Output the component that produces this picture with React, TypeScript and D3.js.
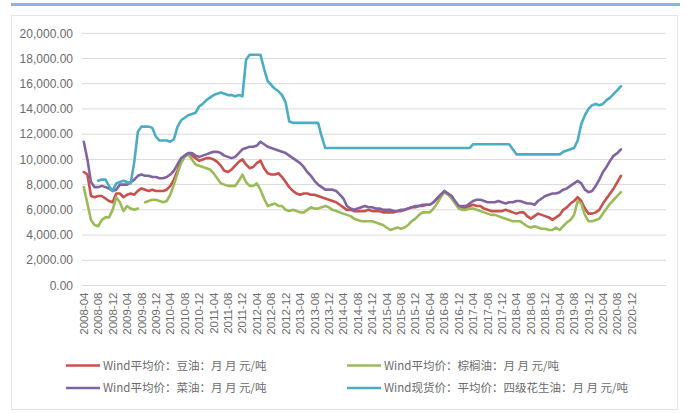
import React from "react";
import * as d3 from "d3";

// Monthly series, 2008-04 … 2020-09 (yuan / tonne)
const FIRST_MONTH = new Date(2008, 3, 1);
const AXIS_SLOTS = 162; // monthly category slots on the date axis

const TICK_LABELS = [
  "2008-04", "2008-08", "2008-12",
  "2009-04", "2009-08", "2009-12",
  "2010-04", "2010-08", "2010-12",
  "2011-04", "2011-08", "2011-12",
  "2012-04", "2012-08", "2012-12",
  "2013-04", "2013-08", "2013-12",
  "2014-04", "2014-08", "2014-12",
  "2015-04", "2015-08", "2015-12",
  "2016-04", "2016-08", "2016-12",
  "2017-04", "2017-08", "2017-12",
  "2018-04", "2018-08", "2018-12",
  "2019-04", "2019-08", "2019-12",
  "2020-04", "2020-08", "2020-12",
];

const Y_TICKS = [0, 2000, 4000, 6000, 8000, 10000, 12000, 14000, 16000, 18000, 20000];

const SOYBEAN: (number | null)[] = [
  9000, 8800, 7100, 7000, 7100, 7100, 6900, 6700, 6600,
  7300, 7300, 7000, 7200, 7300, 7200, 7500, 7700, 7600, 7500, 7600, 7500,
  7500, 7500, 7600, 7900, 8400, 9100, 9900, 10300, 10500, 10300, 10100, 9900,
  10000, 10100, 10100, 10000, 9800, 9500, 9100, 9000, 9200, 9500, 9800, 10000,
  9600, 9300, 9400, 9700, 9900, 9300, 8900, 8800, 8800, 8900, 8600, 8200,
  7800, 7500, 7300, 7200, 7300, 7300, 7200, 7200, 7100, 7000, 6900, 6800,
  6700, 6600, 6400, 6200, 6000, 6000, 5900, 5900, 5900, 5900, 6000, 5900,
  5900, 5900, 5800, 5800, 5800, 5800, 5900, 5900, 6000, 6100, 6200, 6200,
  6300, 6300, 6400, 6400, 6600, 6900, 7200, 7400, 7300, 7100, 6600, 6300,
  6200, 6100, 6300, 6400, 6300, 6300, 6100, 6000, 5900, 5900, 5900, 5900,
  6000, 5900, 5800, 5700, 5800, 5800, 5500, 5300, 5500, 5700, 5600, 5500,
  5400, 5200, 5400, 5600, 6000, 6200, 6500, 6700, 7000, 6700, 6100, 5700,
  5700, 5800, 6000, 6500, 6900, 7300, 7700, 8200, 8700,
];

const PALM: (number | null)[] = [
  7800, 6500, 5200, 4800, 4700, 5200, 5400, 5400, 6000,
  7000, 6600, 5900, 6300, 6100, 6000, 6100, null, 6600, 6700, 6800, 6800,
  6700, 6600, 6700, 7200, 8000, 8900, 9700, 10200, 10400, 10000, 9600, 9500,
  9400, 9300, 9200, 8900, 8500, 8100, 8000, 7900, 7900, 7900, 8300, 8800,
  8200, 7900, 7900, 8100, 7600, 6900, 6300, 6400, 6500, 6300, 6300, 6000,
  5900, 6000, 5900, 5800, 5800, 6000, 6200, 6100, 6100, 6200, 6300, 6200,
  6000, 5900, 5800, 5700, 5600, 5500, 5300, 5200, 5100, 5100, 5100, 5100,
  5000, 4900, 4800, 4600, 4400, 4500, 4600, 4500, 4600, 4800, 5100, 5300,
  5600, 5800, 5800, 5800, 6100, 6500, 7000, 7400, 7200, 6900, 6500, 6100,
  6000, 6000, 6100, 6100, 6000, 5900, 5800, 5700, 5600, 5600, 5500, 5400,
  5300, 5200, 5100, 5100, 5100, 4900, 4700, 4600, 4700, 4600, 4500, 4500,
  4400, 4400, 4600, 4400, 4700, 5000, 5200, 5600, 6700, 6500, 5600, 5100,
  5100, 5200, 5300, 5700, 6100, 6500, 6800, 7100, 7400,
];

const RAPESEED: (number | null)[] = [
  11400, 10000, 8200, 7800, 7800, 7900, 7800, 7700, 7500,
  7600, 8000, 8000, 8000, 8200, 8400, 8700, 8800, 8700, 8700, 8600, 8600,
  8500, 8500, 8600, 8800, 9100, 9600, 10100, 10300, 10500, 10500, 10300, 10200,
  10300, 10400, 10500, 10600, 10600, 10500, 10300, 10200, 10100, 10200, 10500, 10800,
  10900, 11000, 11000, 11100, 11400, 11200, 11000, 10900, 10800, 10700, 10600, 10500,
  10300, 10100, 9900, 9700, 9400, 9000, 8700, 8300, 8000, 7800, 7600, 7600,
  7600, 7500, 7200, 6900, 6300, 6100, 6000, 6100, 6200, 6300, 6200, 6200,
  6100, 6100, 6000, 6000, 6000, 5900, 5900, 6000, 6000, 6100, 6200, 6300,
  6300, 6400, 6400, 6400, 6600, 6900, 7200, 7500, 7300, 7100, 6700, 6300,
  6300, 6300, 6500, 6700, 6800, 6800, 6700, 6600, 6600, 6600, 6700, 6600,
  6500, 6600, 6600, 6700, 6700, 6600, 6500, 6500, 6400, 6700, 6900, 7100,
  7200, 7300, 7300, 7400, 7600, 7700, 7900, 8100, 8300, 8100, 7600, 7400,
  7500, 7900, 8400, 9000, 9400, 9900, 10300, 10500, 10800,
];

const PEANUT: (number | null)[] = [
  null, null, null, null, 8300, 8400, 8400, 7900, 7500,
  8100, 8200, 8300, 8200, 8100, 9800, 12200, 12600, 12600, 12600, 12500, 11800,
  11500, 11500, 11500, 11400, 11600, 12600, 13100, 13300, 13500, 13600, 13700, 14200,
  14400, 14700, 14900, 15100, 15200, 15300, 15200, 15100, 15100, 15000, 15100, 15000,
  17900, 18300, 18300, 18300, 18300, 17200, 16200, 15900, 15600, 15400, 15100, 14500,
  13000, 12900, 12900, 12900, 12900, 12900, 12900, 12900, 12900, 11800, 10900, 10900,
  10900, 10900, 10900, 10900, 10900, 10900, 10900, 10900, 10900, 10900, 10900, 10900,
  10900, 10900, 10900, 10900, 10900, 10900, 10900, 10900, 10900, 10900, 10900, 10900,
  10900, 10900, 10900, 10900, 10900, 10900, 10900, 10900, 10900, 10900, 10900, 10900,
  10900, 10900, 10900, 11200, 11200, 11200, 11200, 11200, 11200, 11200, 11200, 11200,
  11200, 11200, 10800, 10400, 10400, 10400, 10400, 10400, 10400, 10400, 10400, 10400,
  10400, 10400, 10400, 10400, 10600, 10700, 10800, 10900, 11500, 12800, 13500, 14000,
  14300, 14400, 14300, 14400, 14700, 14900, 15200, 15500, 15800,
];

const SERIES = [
  { name: "Wind平均价：豆油：月 月 元/吨", color: "#c9504d", values: SOYBEAN },
  { name: "Wind平均价：棕榈油：月 月 元/吨", color: "#9bbb59", values: PALM },
  { name: "Wind平均价：菜油：月 月 元/吨", color: "#8064a2", values: RAPESEED },
  { name: "Wind现货价：平均价：四级花生油：月 月 元/吨", color: "#4bacc6", values: PEANUT },
];

const W = 686;
const H = 414;
const PLOT = { left: 82, right: 666, top: 33.3, bottom: 285.5 };
const FONT = "'Liberation Sans', Arial, sans-serif";
const CJK_FONT = "'Noto Sans CJK SC', 'Liberation Sans', sans-serif";
const TEXT_COLOR = "#6b6b6b";

const fmtMonth = d3.timeFormat("%Y-%m");
const MONTHS = d3.range(AXIS_SLOTS).map((i) => fmtMonth(d3.timeMonth.offset(FIRST_MONTH, i)));

export default function App() {
  const x = d3.scaleBand<string>().domain(MONTHS).range([PLOT.left, PLOT.right]).paddingInner(0).paddingOuter(0);
  const cx = (key: string) => (x(key) ?? 0) + x.bandwidth() / 2;
  const y = d3.scaleLinear().domain([0, 20000]).range([PLOT.bottom, PLOT.top]);
  const yFmt = d3.format(",.2f");

  const line = d3
    .line<number | null>()
    .defined((d) => d != null)
    .x((_, i) => cx(MONTHS[i]))
    .y((d) => y(d as number));

  const legendCols = [66, 347];
  const legendRows = [365.5, 388];

  return (
    <svg
      width={W}
      height={H}
      viewBox={`0 0 ${W} ${H}`}
      style={{ position: "absolute", left: 0, top: 0, background: "#fff" }}
    >
      <rect x={11} y={3} width={669} height={3} fill="#8db3e2" />
      <rect x={11.5} y={15.5} width={666} height={394} fill="#fff" stroke="#e4e4e4" strokeWidth={1} />

      {Y_TICKS.map((t) => (
        <g key={t}>
          <line x1={PLOT.left} x2={PLOT.right} y1={y(t)} y2={y(t)} stroke="#d9d9d9" strokeWidth={1} />
          <text
            x={73}
            y={y(t)}
            dy="0.35em"
            textAnchor="end"
            fontFamily={FONT}
            fontSize={12}
            fill={TEXT_COLOR}
          >
            {yFmt(t)}
          </text>
        </g>
      ))}

      {TICK_LABELS.map((lab) => (
        <text
          key={lab}
          transform={`translate(${cx(lab)},${PLOT.bottom + 7}) rotate(-90)`}
          textAnchor="end"
          dy="0.35em"
          fontFamily={FONT}
          fontSize={11.5}
          fill={TEXT_COLOR}
        >
          {lab}
        </text>
      ))}

      {SERIES.map((s) => (
        <path
          key={s.name}
          d={line(s.values) ?? ""}
          fill="none"
          stroke={s.color}
          strokeWidth={2.6}
          strokeLinejoin="round"
          strokeLinecap="round"
        />
      ))}

      {SERIES.map((s, i) => {
        const lx = legendCols[i % 2];
        const ly = legendRows[Math.floor(i / 2)];
        return (
          <g key={s.name}>
            <line x1={lx} x2={lx + 34} y1={ly} y2={ly} stroke={s.color} strokeWidth={2.6} />
            <text x={lx + 37} y={ly} dy="0.35em" fontFamily={CJK_FONT} fontSize={11.5} fill={TEXT_COLOR}>
              {s.name}
            </text>
          </g>
        );
      })}
    </svg>
  );
}
